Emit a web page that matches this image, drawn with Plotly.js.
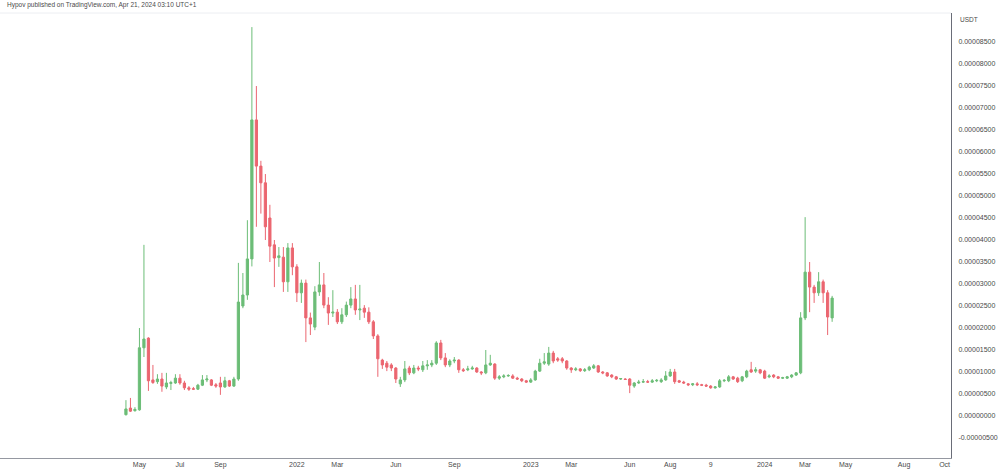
<!DOCTYPE html>
<html>
<head>
<meta charset="utf-8">
<script src="https://cdn.plot.ly/plotly-3.0.1.min.js"></script>
<style>
  html, body { margin: 0; padding: 0; background: #ffffff; }
  #chart { width: 1000px; height: 475px; }
</style>
</head>
<body>
<div id="chart"></div>
<script>
// Weekly candles (one per week, first week starting Monday 2021-04-12)
const firstWeek = '2021-04-12';
// Prices are in millionths of a USDT (1e-6)
const PRICE_UNIT = 1e-6;

const openVals = [
  0.3, 1.8, 1.2, 1.4, 15.5, 17.7, 8.2, 7.8, 8.4, 6.6,
  7.4, 7.5, 8.6, 7.5, 6.4, 6.2, 6.1, 7.0, 8.2, 8.2,
  7.1, 7.5, 6.6, 8.0, 6.8, 8.4, 25.0, 27.5, 35.7, 67.3,
  56.8, 53.0, 45.0, 38.9, 36.0, 36.1, 30.5, 38.2, 33.9, 28.0,
  30.2, 22.3, 20.2, 28.2, 29.8, 25.2, 23.4, 23.6, 21.4, 23.0,
  25.2, 26.6, 24.1, 24.5, 23.6, 21.4, 18.2, 12.7, 12.0, 11.6,
  10.9, 7.3, 8.2, 10.9, 9.8, 10.9, 10.5, 11.4, 11.6, 12.0,
  16.6, 13.2, 11.6, 12.5, 12.7, 10.5, 10.5, 10.7, 10.9, 10.0,
  9.8, 11.6, 11.8, 8.6, 8.9, 9.1, 9.1, 8.6, 8.4, 8.0,
  7.7, 8.2, 10.2, 12.0, 11.8, 14.3, 13.0, 13.0, 12.5, 10.9,
  10.5, 10.7, 10.3, 10.5, 10.9, 11.4, 10.0, 9.8, 9.3, 8.9,
  8.4, 8.4, 8.4, 6.8, 7.5, 7.7, 7.8, 7.7, 8.0, 7.8,
  8.2, 9.1, 10.0, 8.0, 7.7, 7.3, 7.1, 7.3, 7.1, 7.0,
  6.8, 6.4, 6.6, 8.0, 8.0, 8.9, 8.6, 8.0, 8.9, 10.5,
  10.2, 10.5, 10.2, 8.9, 9.3, 8.9, 8.6, 8.6, 8.9, 9.3,
  9.8, 22.3, 32.7, 29.3, 28.0, 30.5, 28.0, 22.3
];
const highVals = [
  3.6, 4.1, 2.0, 20.0, 38.9, 17.9, 11.6, 9.5, 9.8, 9.8,
  8.0, 9.5, 9.5, 8.0, 6.8, 6.6, 7.3, 9.3, 9.3, 8.4,
  7.5, 8.9, 8.9, 8.2, 8.9, 34.8, 32.5, 44.5, 88.4, 75.0,
  58.0, 55.0, 48.0, 40.0, 38.4, 38.4, 39.3, 39.3, 34.5, 31.0,
  31.0, 23.5, 29.5, 35.0, 32.5, 27.0, 28.6, 24.3, 24.5, 26.0,
  29.3, 29.8, 29.8, 25.2, 24.7, 21.8, 18.6, 13.0, 12.5, 12.0,
  11.1, 8.9, 12.5, 11.4, 11.6, 11.4, 12.5, 12.7, 12.7, 17.0,
  17.3, 14.3, 12.9, 13.4, 12.9, 10.9, 11.4, 11.4, 11.1, 10.2,
  15.0, 13.9, 12.0, 9.3, 9.5, 9.5, 9.5, 8.9, 8.6, 8.2,
  8.6, 10.5, 13.0, 14.3, 15.7, 14.8, 13.4, 13.4, 12.7, 11.1,
  11.1, 10.9, 10.9, 11.4, 11.8, 11.6, 10.2, 10.0, 9.5, 9.1,
  8.6, 8.6, 8.6, 7.7, 8.2, 8.4, 8.2, 8.4, 8.4, 8.6,
  10.2, 10.7, 10.7, 8.2, 8.0, 7.5, 7.5, 7.7, 7.3, 7.3,
  7.0, 6.8, 8.4, 8.4, 9.3, 9.1, 8.9, 9.1, 10.5, 12.3,
  11.1, 10.7, 10.5, 9.5, 9.5, 9.1, 8.9, 9.1, 9.5, 10.0,
  23.6, 45.2, 35.0, 29.8, 32.7, 31.0, 28.6, 27.3
];
const lowVals = [
  0.1, 0.9, 1.0, 1.2, 13.4, 5.7, 7.3, 7.3, 5.5, 6.1,
  5.9, 7.3, 7.1, 5.9, 5.7, 5.9, 5.9, 6.8, 7.7, 6.8,
  6.4, 4.8, 6.4, 6.6, 6.6, 8.0, 24.5, 26.4, 34.0, 43.0,
  46.0, 40.0, 35.0, 29.3, 33.9, 28.2, 28.2, 32.0, 25.9, 25.7,
  16.8, 18.4, 19.5, 27.3, 24.5, 20.7, 22.5, 20.9, 20.9, 22.5,
  24.5, 23.0, 21.8, 22.3, 20.9, 17.5, 8.9, 10.7, 10.2, 10.2,
  7.5, 6.6, 7.7, 9.3, 9.5, 10.2, 10.0, 10.5, 11.1, 11.6,
  12.7, 11.1, 11.1, 12.0, 9.8, 10.0, 10.2, 10.5, 9.8, 9.3,
  9.5, 11.4, 8.2, 8.2, 8.6, 8.9, 8.4, 8.2, 7.7, 7.5,
  7.5, 8.0, 10.0, 11.6, 11.4, 12.0, 12.3, 12.0, 10.5, 9.8,
  10.2, 10.0, 10.0, 10.2, 10.7, 9.8, 9.5, 8.9, 8.6, 8.2,
  8.2, 8.2, 5.2, 6.4, 7.3, 7.5, 7.5, 7.5, 7.7, 7.5,
  8.0, 8.9, 7.3, 7.5, 7.3, 6.8, 6.8, 6.8, 6.8, 6.6,
  6.2, 6.2, 6.4, 7.7, 7.7, 8.2, 7.5, 7.7, 8.6, 9.8,
  9.8, 9.5, 8.4, 8.6, 8.6, 8.4, 8.4, 8.4, 8.6, 9.1,
  9.5, 21.8, 23.6, 25.7, 27.3, 25.7, 18.4, 21.4
];
const closeVals = [
  1.6, 1.1, 1.5, 15.5, 17.5, 8.0, 7.6, 8.4, 6.8, 7.5,
  7.6, 8.6, 7.5, 6.4, 6.1, 6.1, 7.0, 8.2, 8.4, 7.0,
  6.8, 6.6, 8.0, 6.8, 8.4, 25.9, 27.5, 35.7, 67.3, 56.8,
  53.0, 43.0, 38.6, 35.9, 36.4, 30.5, 38.2, 33.9, 28.0, 30.2,
  22.3, 20.9, 28.2, 29.8, 25.2, 23.4, 23.6, 21.4, 23.0, 25.2,
  26.6, 24.1, 24.3, 23.6, 21.4, 18.2, 13.0, 11.6, 11.1, 10.9,
  8.4, 8.2, 10.7, 9.8, 10.9, 10.7, 11.4, 11.6, 12.0, 16.6,
  13.2, 11.6, 12.5, 12.7, 10.5, 10.3, 10.7, 10.9, 10.0, 9.8,
  11.6, 12.0, 8.6, 8.9, 9.1, 9.2, 8.6, 8.4, 8.0, 7.7,
  8.2, 10.2, 12.0, 12.3, 14.3, 12.5, 12.7, 12.5, 10.9, 10.5,
  10.7, 10.3, 10.5, 11.1, 11.4, 10.0, 9.8, 9.1, 8.9, 8.4,
  8.5, 8.3, 7.0, 7.5, 7.7, 7.8, 7.7, 8.0, 8.1, 8.2,
  9.1, 10.0, 7.8, 7.7, 7.5, 7.1, 7.3, 7.1, 7.0, 6.8,
  6.4, 6.6, 8.0, 8.1, 8.9, 8.4, 7.8, 8.9, 10.2, 10.0,
  10.5, 9.8, 8.6, 9.1, 8.9, 8.6, 8.7, 8.9, 9.3, 9.8,
  22.3, 32.7, 29.3, 28.0, 30.5, 28.0, 22.5, 26.8
];

// X-axis tick labels as shown on the chart
const xTickDates = ['2021-05-03','2021-07-05','2021-09-06','2022-01-03','2022-03-07','2022-06-06',
  '2022-09-05','2023-01-02','2023-03-06','2023-06-05','2023-08-07','2023-10-09','2024-01-01',
  '2024-03-04','2024-05-06','2024-08-05','2024-10-07'];
const xTickText = ['May','Jul','Sep','2022','Mar','Jun','Sep','2023','Mar','Jun','Aug','9','2024',
  'Mar','May','Aug','Oct'];

// Y-axis tick labels
const yTickVals = [-0.000005, 0, 0.000005, 0.00001, 0.000015, 0.00002, 0.000025, 0.00003, 0.000035,
  0.00004, 0.000045, 0.00005, 0.000055, 0.00006, 0.000065, 0.00007, 0.000075, 0.00008, 0.000085];
const yTickText = ['-0.00000500','0.00000000','0.00000500','0.00001000','0.00001500','0.00002000',
  '0.00002500','0.00003000','0.00003500','0.00004000','0.00004500','0.00005000','0.00005500',
  '0.00006000','0.00006500','0.00007000','0.00007500','0.00008000','0.00008500'];

// build weekly dates
const dates = [];
{
  const d0 = new Date(firstWeek + 'T00:00:00Z');
  for (let i = 0; i < openVals.length; i++) {
    const d = new Date(d0.getTime() + i * 7 * 86400000);
    dates.push(d.toISOString().slice(0, 10));
  }
}
const toPrice = arr => arr.map(v => v * PRICE_UNIT);

const GREEN = '#6cbd77';
const RED = '#eb6670';

const trace = {
  type: 'candlestick',
  x: dates,
  open: toPrice(openVals),
  high: toPrice(highVals),
  low: toPrice(lowVals),
  close: toPrice(closeVals),
  increasing: { line: { color: GREEN, width: 1 }, fillcolor: GREEN },
  decreasing: { line: { color: RED, width: 1 }, fillcolor: RED },
  whiskerwidth: 0,
  hoverinfo: 'skip',
  showlegend: false
};

const FONT = 'Liberation Sans, Arial, sans-serif';

const layout = {
  width: 1000,
  height: 475,
  paper_bgcolor: '#ffffff',
  plot_bgcolor: '#ffffff',
  margin: { l: 0, r: 49, t: 13, b: 17 },
  font: { family: FONT, size: 7, color: '#4a4a4a' },
  showlegend: false,
  xaxis: {
    type: 'date',
    range: ['2020-09-28', '2024-10-17'],
    rangeslider: { visible: false },
    tickmode: 'array',
    tickvals: xTickDates,
    ticktext: xTickText,
    showgrid: false,
    zeroline: false,
    showline: true,
    linecolor: '#9598a1',
    linewidth: 1,
    ticks: '',
    tickfont: { family: FONT, size: 7, color: '#4a4a4a' },
    fixedrange: true
  },
  yaxis: {
    side: 'right',
    range: [-0.00000955, 0.0000916],
    tickmode: 'array',
    tickvals: yTickVals,
    ticktext: yTickText,
    showgrid: false,
    zeroline: false,
    showline: true,
    linecolor: '#6a6d78',
    linewidth: 1,
    ticks: '',
    ticklabelstandoff: 5,
    tickfont: { family: FONT, size: 7, color: '#4a4a4a' },
    fixedrange: true
  },
  shapes: [
    { type: 'line', xref: 'paper', yref: 'paper', x0: 0, x1: 1, y0: 1, y1: 1,
      line: { color: '#eceef2', width: 1 } }
  ],
  annotations: [
    { text: 'Hypov published on TradingView.com, Apr 21, 2024 03:10 UTC+1',
      xref: 'paper', yref: 'paper', x: 0.005, y: 1, yshift: 8, xanchor: 'left', yanchor: 'middle',
      showarrow: false, font: { family: FONT, size: 6.5, color: '#4a4a4a' } },
    { text: 'USDT', xref: 'paper', yref: 'paper', x: 1, xshift: 7, y: 0.985, xanchor: 'left', yanchor: 'middle',
      showarrow: false, font: { family: FONT, size: 6.5, color: '#4a4a4a' } }
  ]
};

Plotly.newPlot('chart', [trace], layout, { displayModeBar: false, staticPlot: true });
</script>
</body>
</html>
